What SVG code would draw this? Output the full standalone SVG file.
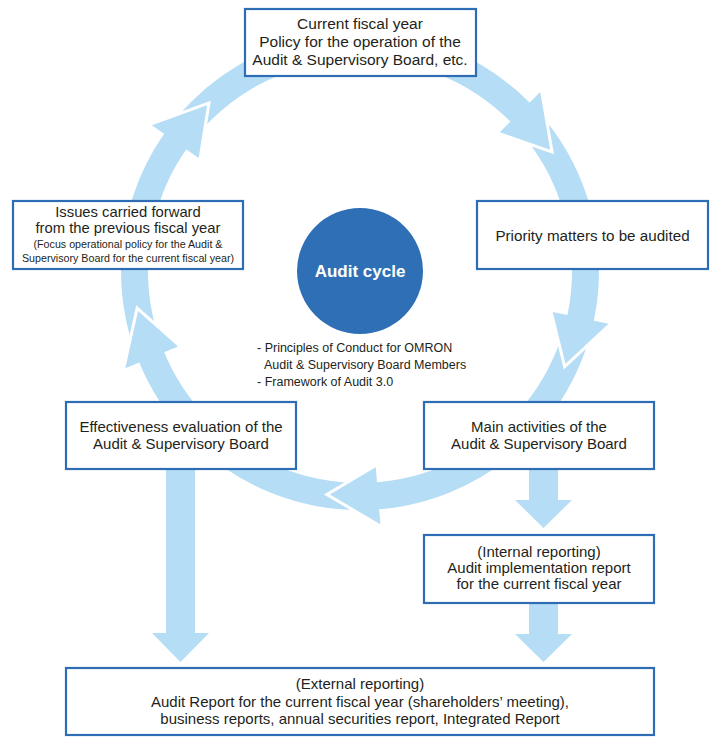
<svg xmlns="http://www.w3.org/2000/svg" width="722" height="745" viewBox="0 0 722 745">
<style>
.box{fill:#fff;stroke:#2e6db4;stroke-width:2.2}
.t{font-family:"Liberation Sans",Arial,sans-serif;font-size:15px;fill:#231f20;text-anchor:middle}
.s{font-size:10.7px}
.b{font-family:"Liberation Sans",Arial,sans-serif;font-size:12.5px;fill:#231f20}
.flow{fill:#b5ddf6}
.ring{fill:none;stroke:#b5ddf6;stroke-width:27}
.gap{fill:none;stroke:#fff;stroke-width:6;stroke-linejoin:miter;stroke-miterlimit:10}
</style>
<rect width="722" height="745" fill="#fff"/>
<g id="connectors">
<circle class="ring" cx="360" cy="271" r="225.5"/>
<polyline class="gap" points="198.63,158 207.08,105.28 151.94,125.31"/>
<polygon class="flow" points="198.63,158 207.08,105.28 151.94,125.31"/>
<polyline class="gap" points="499.79,132.19 550.18,149.84 540.23,92.02"/>
<polygon class="flow" points="499.79,132.19 550.18,149.84 540.23,92.02"/>
<polyline class="gap" points="552.70,311.96 565.52,363.80 608.45,323.81"/>
<polygon class="flow" points="552.70,311.96 565.52,363.80 608.45,323.81"/>
<polyline class="gap" points="375.80,467.37 329.79,494.47 380.37,524.18"/>
<polygon class="flow" points="375.80,467.37 329.79,494.47 380.37,524.18"/>
<polyline class="gap" points="178.00,346.39 138.06,310.93 125.33,368.20"/>
<polygon class="flow" points="178.00,346.39 138.06,310.93 125.33,368.20"/>
<polygon class="flow" points="166,466 195,466 195,633 209,633 180.5,662 152,633 166,633"/>
<polygon class="flow" points="529,466 558,466 558,500 572,500 543.5,528 515,500 529,500"/>
<polygon class="flow" points="529,600 558,600 558,634 572,634 543.5,662 515,634 529,634"/>
</g>
<g id="node-policy">
<rect class="box" x="245" y="9" width="231" height="67"/>
<text class="t" x="360" y="29" style="font-size:15.5px">Current fiscal year</text>
<text class="t" x="360" y="47" style="font-size:15.5px">Policy for the operation of the</text>
<text class="t" x="360" y="65" style="font-size:15.5px">Audit &amp; Supervisory Board, etc.</text>
</g>
<g id="node-issues">
<rect class="box" x="13" y="201" width="230" height="68"/>
<text class="t" x="128" y="217" style="font-size:14.8px">Issues carried forward</text>
<text class="t" x="128" y="233" style="font-size:14.8px">from the previous fiscal year</text>
<text class="t s" x="128" y="248">(Focus operational policy for the Audit &amp;</text>
<text class="t s" x="128" y="262">Supervisory Board for the current fiscal year)</text>
</g>
<g id="node-priority">
<rect class="box" x="477" y="201" width="231" height="68"/>
<text class="t" x="592.5" y="241" style="font-size:15.2px">Priority matters to be audited</text>
</g>
<g id="node-audit-cycle">
<circle cx="360" cy="271" r="63" fill="#2f6fb5"/>
<text x="360" y="277" text-anchor="middle" style="font-family:'Liberation Sans',Arial,sans-serif;font-size:17px;font-weight:bold;fill:#fff">Audit cycle</text>
<text class="b" x="257" y="352">- Principles of Conduct for OMRON</text>
<text class="b" x="264" y="369">Audit &amp; Supervisory Board Members</text>
<text class="b" x="257" y="386">- Framework of Audit 3.0</text>
</g>
<g id="node-effectiveness">
<rect class="box" x="66" y="402" width="230" height="67"/>
<text class="t" x="181" y="432">Effectiveness evaluation of the</text>
<text class="t" x="181" y="449">Audit &amp; Supervisory Board</text>
</g>
<g id="node-main">
<rect class="box" x="424" y="402" width="230" height="67"/>
<text class="t" x="539" y="432">Main activities of the</text>
<text class="t" x="539" y="449">Audit &amp; Supervisory Board</text>
</g>
<g id="node-internal">
<rect class="box" x="424" y="535" width="230" height="68"/>
<text class="t" x="539" y="557">(Internal reporting)</text>
<text class="t" x="539" y="573">Audit implementation report</text>
<text class="t" x="539" y="589">for the current fiscal year</text>
</g>
<g id="node-external">
<rect class="box" x="66" y="668" width="588" height="67"/>
<text class="t" x="360" y="689">(External reporting)</text>
<text class="t" x="360" y="707">Audit Report for the current fiscal year (shareholders’ meeting),</text>
<text class="t" x="360" y="724">business reports, annual securities report, Integrated Report</text>
</g>
</svg>
